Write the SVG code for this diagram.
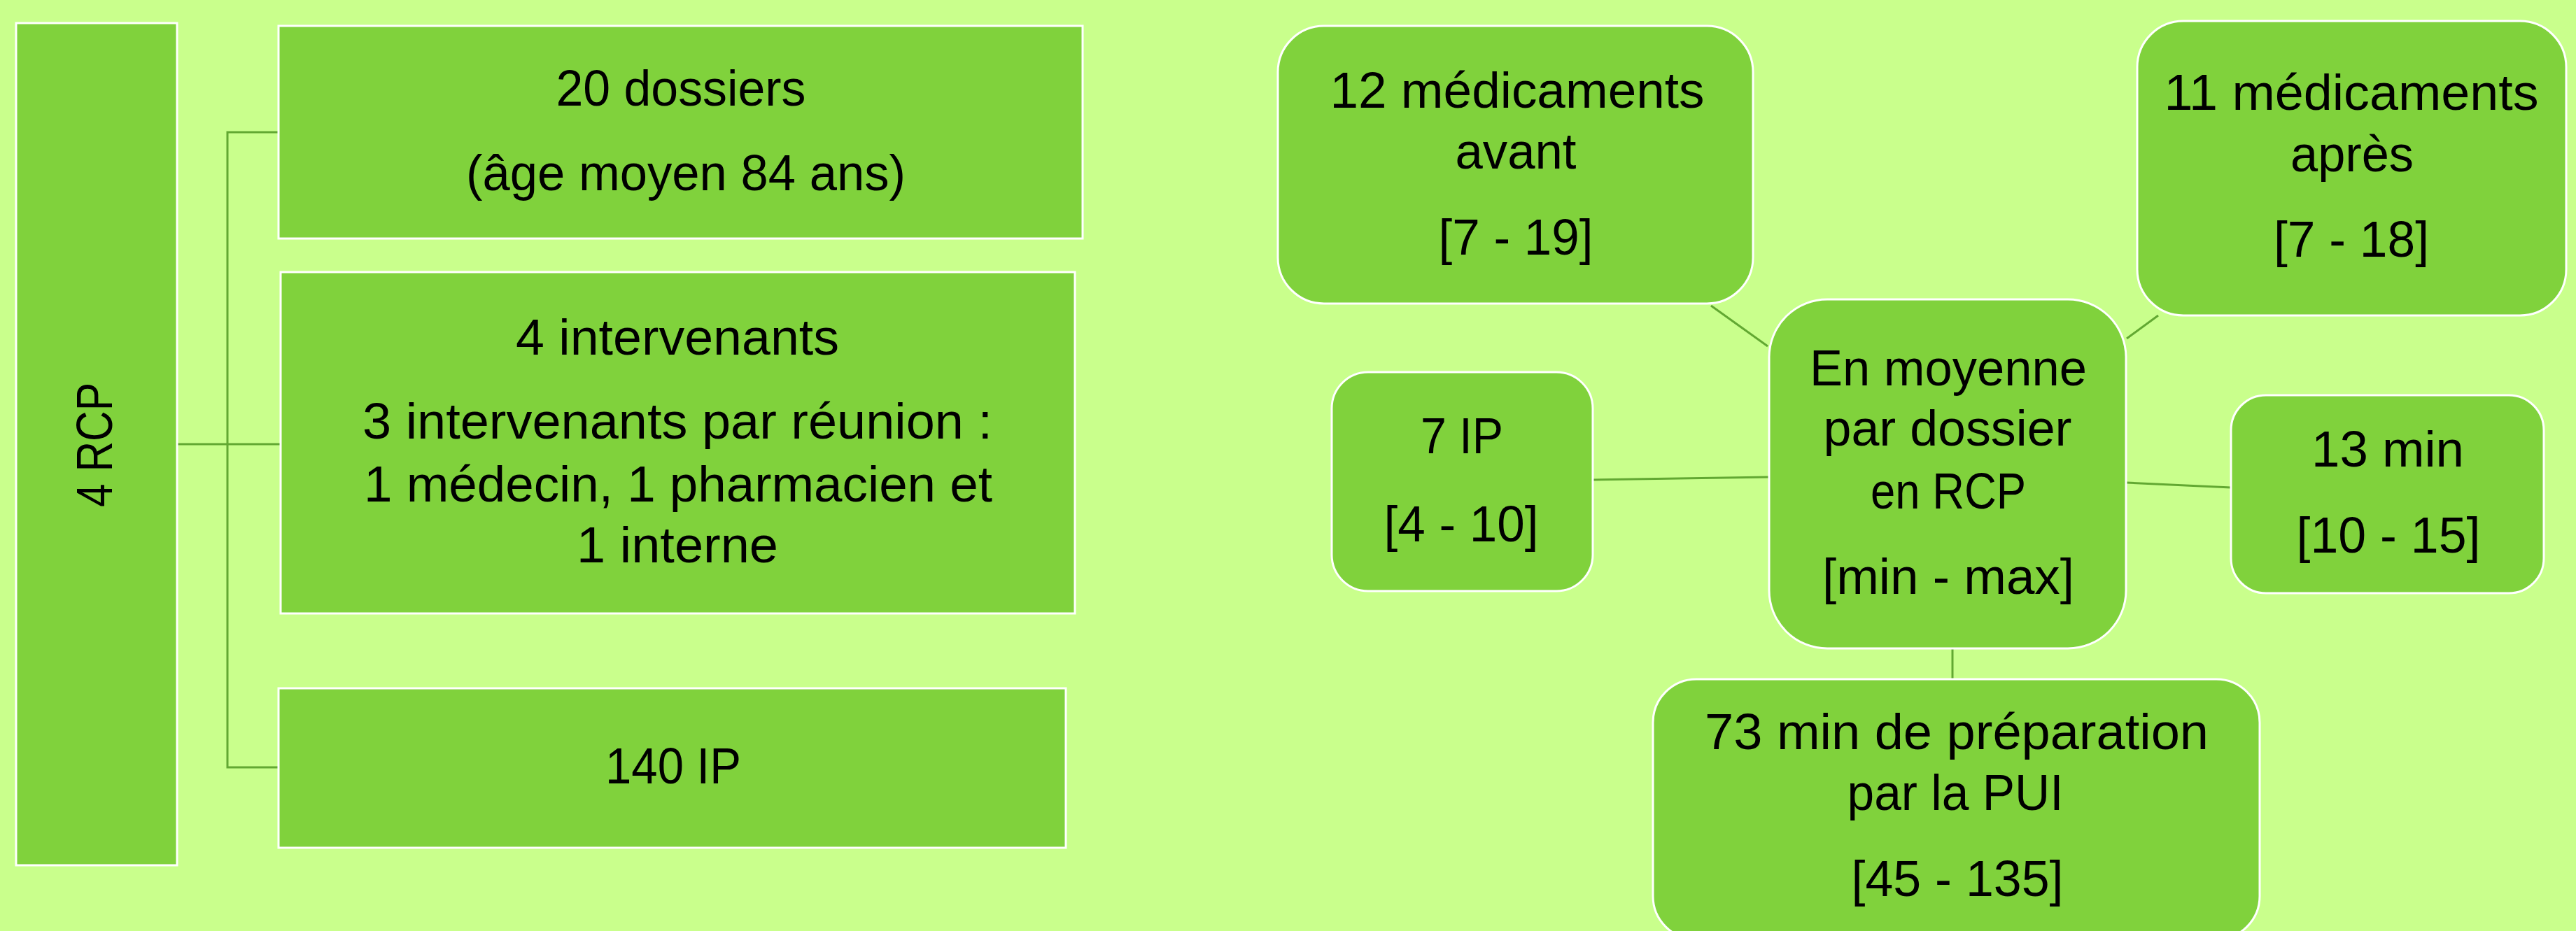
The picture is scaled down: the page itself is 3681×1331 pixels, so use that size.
<svg xmlns="http://www.w3.org/2000/svg" width="3681" height="1331" viewBox="0 0 3681 1331">
<style>
.box{fill:#80d23c;stroke:#ffffff;stroke-width:3}
.t{font-family:"Liberation Sans",Arial,sans-serif;font-size:72px;fill:#000;text-anchor:middle}
.c{stroke:#62a832;stroke-width:3;fill:none}
</style>
<rect x="0" y="0" width="3681" height="1331" fill="#c9ff8c"/>
<g id="connectors">
<polyline class="c" points="253,635 325,635"/>
<polyline class="c" points="398,189 325,189 325,1097 398,1097"/>
<polyline class="c" points="325,635 401,635"/>
<line class="c" x1="2445" y1="437" x2="2526" y2="495"/>
<line class="c" x1="3084" y1="451" x2="3039" y2="484"/>
<line class="c" x1="2276" y1="686" x2="2528" y2="682"/>
<line class="c" x1="3039" y1="690" x2="3188" y2="697"/>
<line class="c" x1="2790" y1="927" x2="2790" y2="971"/>
</g>
<g id="rcp">
<rect class="box" x="23" y="33" width="230" height="1204"/>
<text class="t" transform="translate(160,636) rotate(-90)" textLength="178" lengthAdjust="spacingAndGlyphs">4 RCP</text>
</g>
<g id="dossiers">
<rect class="box" x="398" y="37" width="1149" height="304"/>
<text class="t" x="973" y="151" textLength="357" lengthAdjust="spacingAndGlyphs">20 dossiers</text>
<text class="t" x="980" y="272" textLength="628" lengthAdjust="spacingAndGlyphs">(âge moyen 84 ans)</text>
</g>
<g id="intervenants">
<rect class="box" x="401" y="389" width="1135" height="488"/>
<text class="t" x="968" y="507" textLength="462" lengthAdjust="spacingAndGlyphs">4 intervenants</text>
<text class="t" x="968" y="627" textLength="900" lengthAdjust="spacingAndGlyphs">3 intervenants par réunion :</text>
<text class="t" x="969" y="717" textLength="898" lengthAdjust="spacingAndGlyphs">1 médecin, 1 pharmacien et</text>
<text class="t" x="968" y="804" textLength="288" lengthAdjust="spacingAndGlyphs">1 interne</text>
</g>
<g id="ip140">
<rect class="box" x="398" y="984" width="1125" height="228"/>
<text class="t" x="962" y="1120" textLength="194" lengthAdjust="spacingAndGlyphs">140 IP</text>
</g>
<g id="med-avant">
<rect class="box" x="1826" y="37" width="679" height="397" rx="66" ry="66"/>
<text class="t" x="2168" y="154" textLength="535" lengthAdjust="spacingAndGlyphs">12 médicaments</text>
<text class="t" x="2166" y="241" textLength="173" lengthAdjust="spacingAndGlyphs">avant</text>
<text class="t" x="2166" y="364" textLength="221" lengthAdjust="spacingAndGlyphs">[7 - 19]</text>
</g>
<g id="med-apres">
<rect class="box" x="3054" y="30" width="613" height="421" rx="66" ry="66"/>
<text class="t" x="3360" y="157" textLength="535" lengthAdjust="spacingAndGlyphs">11 médicaments</text>
<text class="t" x="3361" y="245" textLength="176" lengthAdjust="spacingAndGlyphs">après</text>
<text class="t" x="3360" y="367" textLength="222" lengthAdjust="spacingAndGlyphs">[7 - 18]</text>
</g>
<g id="centre">
<rect class="box" x="2528" y="428" width="510" height="499" rx="83" ry="83"/>
<text class="t" x="2784" y="551" textLength="396" lengthAdjust="spacingAndGlyphs">En moyenne</text>
<text class="t" x="2783" y="637" textLength="355" lengthAdjust="spacingAndGlyphs">par dossier</text>
<text class="t" x="2784" y="727" textLength="222" lengthAdjust="spacingAndGlyphs">en RCP</text>
<text class="t" x="2784" y="849" textLength="360" lengthAdjust="spacingAndGlyphs">[min - max]</text>
</g>
<g id="ip7">
<rect class="box" x="1903" y="532" width="373" height="313" rx="52" ry="52"/>
<text class="t" x="2089" y="648" textLength="118" lengthAdjust="spacingAndGlyphs">7 IP</text>
<text class="t" x="2088" y="774" textLength="221" lengthAdjust="spacingAndGlyphs">[4 - 10]</text>
</g>
<g id="min13">
<rect class="box" x="3188" y="565" width="447" height="283" rx="50" ry="50"/>
<text class="t" x="3412" y="667" textLength="218" lengthAdjust="spacingAndGlyphs">13 min</text>
<text class="t" x="3413" y="790" textLength="263" lengthAdjust="spacingAndGlyphs">[10 - 15]</text>
</g>
<g id="prep">
<rect class="box" x="2362" y="971" width="867" height="372" rx="62" ry="62"/>
<text class="t" x="2796" y="1071" textLength="720" lengthAdjust="spacingAndGlyphs">73 min de préparation</text>
<text class="t" x="2794" y="1158" textLength="309" lengthAdjust="spacingAndGlyphs">par la PUI</text>
<text class="t" x="2797" y="1281" textLength="303" lengthAdjust="spacingAndGlyphs">[45 - 135]</text>
</g>
</svg>
